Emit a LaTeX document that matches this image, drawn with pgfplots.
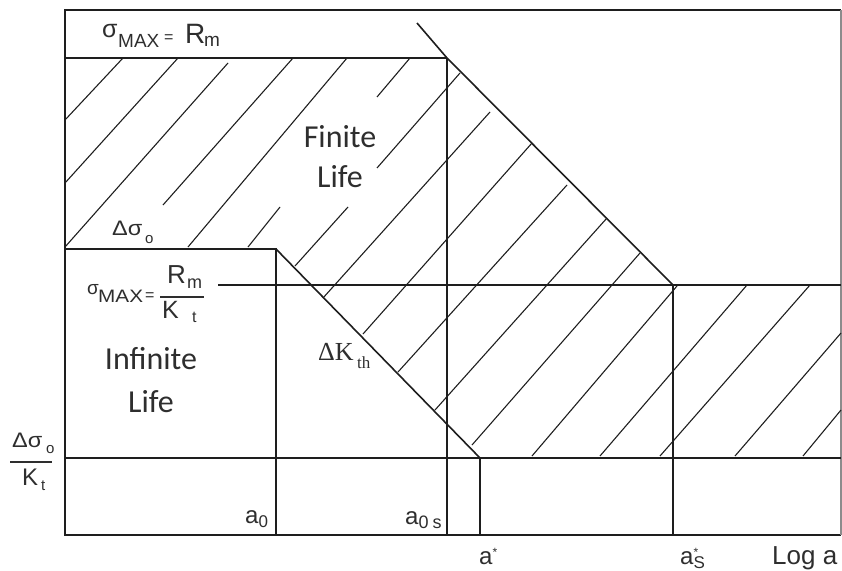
\documentclass[border=0pt]{standalone}
\usepackage{fontspec}
\setmainfont{Liberation Sans}
\newfontfamily\cali{Carlito}
\newfontfamily\tms{Liberation Serif}
\usepackage{graphicx}
\usepackage{pgfplots}
\pgfplotsset{compat=1.18}
\definecolor{Ink}{HTML}{1E1E1E}
\definecolor{TextGrey}{HTML}{2E2E2E}
\newcommand\fs[1]{\fontsize{#1}{#1}\selectfont}
\tikzset{
  edge/.style={draw=Ink, line width=1.6pt},
  hatch/.style={draw=Ink, line width=1.1pt},
  lbl/.style={anchor=base west, inner sep=0pt, text=TextGrey}
}

\begin{document}
\begin{tikzpicture}
\begin{axis}[
  width=842pt, height=570pt, scale only axis,
  xmin=0, xmax=842, ymin=0, ymax=570,
  y dir=reverse, hide axis, clip=false
]
% keeps the page the size of the reference
\addplot[draw=none] coordinates {(0,0) (842,570)};

% frame
\addplot[edge] coordinates {(841,10) (65,10) (65,535) (841,535)};
\addplot[draw=black!45, line width=1.2pt] coordinates {(841,10) (841,535)};

% limit lines
\addplot[edge] coordinates {(65,58) (447,58)};
\addplot[edge] coordinates {(447,58) (447,535)};
\addplot[edge] coordinates {(417,23) (447,58) (673,285)};
\addplot[edge] coordinates {(218,285) (841,285)};
\addplot[edge] coordinates {(673,285) (673,535)};
\addplot[edge] coordinates {(65,249) (276,249) (276,535)};
\addplot[edge] coordinates {(276,249) (480,458) (480,535)};
\addplot[edge] coordinates {(65,458) (841,458)};

% hatching of the finite life zone
\addplot[hatch] coordinates {(65,120) (123,58)};
\addplot[hatch] coordinates {(65,183) (178,58)};
\addplot[hatch] coordinates {(65,247) (228,63)};
\addplot[hatch] coordinates {(163,205) (293,58)};
\addplot[hatch] coordinates {(188,247) (347,58)};
\addplot[hatch] coordinates {(248,247) (280,207)};
\addplot[hatch] coordinates {(377,97) (410,58)};
\addplot[hatch] coordinates {(295,266) (348,207)};
\addplot[hatch] coordinates {(377,168) (460,73)};
\addplot[hatch] coordinates {(323,298) (490,112)};
\addplot[hatch] coordinates {(363,334) (532,143)};
\addplot[hatch] coordinates {(398,372) (567,185)};
\addplot[hatch] coordinates {(435,410) (607,218)};
\addplot[hatch] coordinates {(472,445) (640,253)};
\addplot[hatch] coordinates {(532,456) (677,286)};
\addplot[hatch] coordinates {(600,456) (747,285)};
\addplot[hatch] coordinates {(660,456) (810,285)};
\addplot[hatch] coordinates {(735,456) (841,333)};
\addplot[hatch] coordinates {(803,456) (841,410)};

% sigma_MAX = R_m
\node[lbl] at (102,37) {\fs{25}σ};
\node[lbl] at (118,47) {\fs{19}MAX};
\node[lbl] at (164,42) {\fs{16}=};
\node[lbl] at (185,43) {\fs{28}R};
\node[lbl] at (204,46) {\fs{19}m};

% delta sigma_o
\node[lbl] at (112,235) {\scalebox{1.12}[1]{\fs{21}Δσ}};
\node[lbl] at (145,243) {\fs{15}o};

% sigma_MAX = R_m / K_t
\node[lbl] at (87,294) {\fs{19}σ};
\node[lbl] at (98,302) {\scalebox{1.15}[1]{\fs{18}MAX}};
\node[lbl] at (145,300) {\fs{16}=};
\node[lbl] at (167,283) {\fs{26}R};
\node[lbl] at (187,288) {\fs{18}m};
\node[anchor=west, inner sep=0pt] at (160,297) {\color{TextGrey}\rule{44pt}{1.4pt}};
\node[lbl] at (162,318) {\fs{25}K};
\node[lbl] at (192,322) {\fs{16}t};

% delta sigma_o / K_t
\node[lbl] at (12,447) {\scalebox{1.12}[1]{\fs{21}Δσ}};
\node[lbl] at (46,453) {\fs{15}o};
\node[anchor=west, inner sep=0pt] at (10,462) {\color{TextGrey}\rule{42pt}{1.4pt}};
\node[lbl] at (22,485) {\fs{24}K};
\node[lbl] at (41,490) {\fs{15}t};

% delta K_th
\node[lbl] at (318,360) {\tms\fs{26}ΔK};
\node[lbl] at (357,368) {\tms\fs{17}th};

% zone names
\node[anchor=base, inner sep=0pt, text=TextGrey] at (340,147) {\cali\fs{32}Finite};
\node[anchor=base, inner sep=0pt, text=TextGrey] at (340,187) {\cali\fs{32}Life};
\node[anchor=base, inner sep=0pt, text=TextGrey] at (151,369) {\cali\fs{32}Infinite};
\node[anchor=base, inner sep=0pt, text=TextGrey] at (151,412) {\cali\fs{32}Life};

% crack lengths
\node[lbl] at (245,523) {\fs{24}a\raisebox{-4pt}{\fs{17}0}};
\node[lbl] at (405,524) {\fs{24}a\raisebox{-4pt}{\fs{18}0\hspace{4pt}s}};
\node[lbl] at (479,564) {\fs{24}a\raisebox{8pt}{\fs{12}*}};
\node[lbl] at (680,564) {\fs{24}a\rlap{\raisebox{8pt}{\fs{12}*}}\raisebox{-4pt}{\fs{17}S}};
\node[lbl] at (772,564) {\fs{26}Log a};
\end{axis}
\end{tikzpicture}
\end{document}
